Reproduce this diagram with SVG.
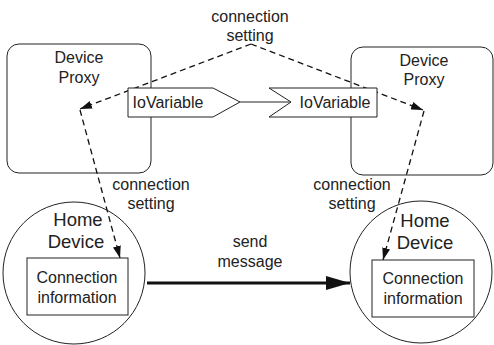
<svg xmlns="http://www.w3.org/2000/svg" width="494" height="345" viewBox="0 0 494 345">
  <style>
    .t { font-family: "Liberation Sans", Arial, sans-serif; font-size: 16px; fill: #222; text-anchor: middle; }
    .big { font-size: 18.5px; }
    .shape { fill: none; stroke: #222; stroke-width: 1; }
    .box { fill: #fff; stroke: #222; stroke-width: 1; }
    .dash { fill: none; stroke: #111; stroke-width: 1.3; stroke-dasharray: 6 4; }
  </style>
  <defs>
    <marker id="tri" viewBox="0 0 12 8" refX="12" refY="4" markerWidth="12" markerHeight="8" markerUnits="userSpaceOnUse" orient="auto">
      <path d="M0,0 L12,4 L0,8 Z" fill="#111"/>
    </marker>
    <marker id="triBig" viewBox="0 0 24 14" refX="24" refY="7" markerWidth="24" markerHeight="14" markerUnits="userSpaceOnUse" orient="auto">
      <path d="M0,0 L24,7 L0,14 Z" fill="#111"/>
    </marker>
  </defs>

  <rect width="494" height="345" fill="#fff"/>

  <!-- proxy containers -->
  <g id="proxy-left">
    <rect class="shape" x="7" y="44" width="144" height="129" rx="12"/>
    <text class="t" x="79" y="63">Device</text>
    <text class="t" x="79" y="83">Proxy</text>
  </g>
  <g id="proxy-right">
    <rect class="shape" x="351" y="47" width="142" height="128" rx="12"/>
    <text class="t" x="424" y="66">Device</text>
    <text class="t" x="424" y="85">Proxy</text>
  </g>

  <!-- home devices -->
  <g id="home-left">
    <circle class="shape" cx="74" cy="273" r="71"/>
    <text class="t big" x="78" y="226">Home</text>
    <text class="t big" x="76" y="248">Device</text>
  </g>
  <g id="home-right">
    <circle class="shape" cx="421" cy="272" r="71"/>
    <text class="t big" x="425" y="227">Home</text>
    <text class="t big" x="425" y="249">Device</text>
  </g>

  <!-- connectors -->
  <g id="connectors">
    <line class="dash" x1="251" y1="44" x2="80" y2="109" marker-end="url(#tri)"/>
    <line class="dash" x1="251" y1="44" x2="423" y2="110" marker-end="url(#tri)"/>
    <line class="dash" x1="80" y1="110" x2="120" y2="258" marker-end="url(#tri)"/>
    <line class="dash" x1="424" y1="111" x2="383" y2="260" marker-end="url(#tri)"/>
    <line x1="240" y1="102" x2="291" y2="102" stroke="#222" stroke-width="1"/>
    <line x1="147" y1="283" x2="350" y2="283" stroke="#111" stroke-width="3" marker-end="url(#triBig)"/>
  </g>

  <!-- connection info boxes -->
  <g id="info-left">
    <rect class="box" x="27" y="258" width="101" height="57"/>
    <text class="t" x="77" y="283">Connection</text>
    <text class="t" x="77" y="303">information</text>
  </g>
  <g id="info-right">
    <rect class="box" x="372" y="260" width="102" height="57"/>
    <text class="t" x="423" y="284">Connection</text>
    <text class="t" x="423" y="304">information</text>
  </g>

  <!-- IoVariable ports -->
  <g id="io-left">
    <polygon class="box" points="128,88 213,88 240,102 213,117 128,117"/>
    <text class="t" x="168" y="108">IoVariable</text>
  </g>
  <g id="io-right">
    <polygon class="box" points="269,88 377,88 377,117 269,117 291,102"/>
    <text class="t" x="335" y="108">IoVariable</text>
  </g>

  <!-- labels -->
  <g id="labels">
    <text class="t" x="250" y="22">connection</text>
    <text class="t" x="250" y="41">setting</text>
    <text class="t" x="151" y="190">connection</text>
    <text class="t" x="151" y="209">setting</text>
    <text class="t" x="352" y="190">connection</text>
    <text class="t" x="352" y="209">setting</text>
    <text class="t" x="250" y="247">send</text>
    <text class="t" x="250" y="267">message</text>
  </g>
</svg>
